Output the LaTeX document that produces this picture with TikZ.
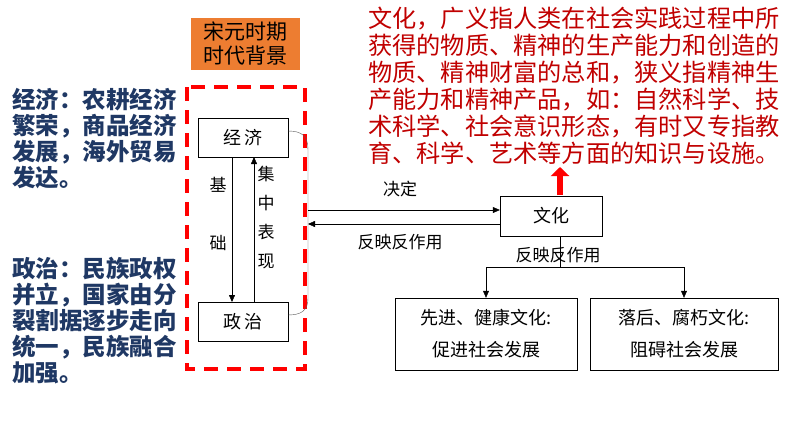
\documentclass[tikz,border=0pt]{standalone}
\usepackage{fontspec}
\setmainfont{Noto Sans CJK SC}
\usetikzlibrary{arrows.meta}
\definecolor{dred}{RGB}{192,0,0}
\definecolor{dblue}{RGB}{31,56,100}
\definecolor{orng}{RGB}{237,125,49}
\tikzset{box/.style={draw,thin,inner sep=0pt,font=\fontsize{18}{21}\selectfont},
 arr/.style={-{Triangle[length=7pt,width=6pt]},thin},
 lab/.style={font=\fontsize{17}{19}\selectfont,inner sep=1pt,align=center}}
\begin{document}
\begin{tikzpicture}[x=1pt,y=-1pt]
\useasboundingbox (0,0) rectangle (794,447);
\node[fill=orng,minimum width=109pt,minimum height=52pt,align=center,font=\fontsize{21}{24}\selectfont,inner sep=0pt] (bg) at (245.5,44) {宋元时期\\时代背景};
\draw[red,line width=4pt,dash pattern=on 14pt off 9pt] (187,87) rectangle (305,369);
\node[box,minimum width=90pt,minimum height=39pt] (jj) at (243,137.5) {经\,济};
\node[box,minimum width=90pt,minimum height=39pt] (zz) at (243,321.5) {政\,治};
\draw[arr] (232,157) -- (232,302);
\draw[arr] (254,302) -- (254,157);
\node[lab,font=\fontsize{17}{58}\selectfont] (jc) at (218,214) {基\\础};
\node[lab,font=\fontsize{17}{29}\selectfont] (jz) at (266,218) {集\\中\\表\\现};
\coordinate (c1) at (288,131);
\coordinate (c2) at (288,315);
\draw[thin,gray!70!black] (c1) .. controls (302,131) and (308,136) .. (308,150) -- (308,298) .. controls (308,310) and (302,315) .. (c2);
\node[box,minimum width=102pt,minimum height=40pt] (wh) at (551,216) {文化};
\coordinate (L) at (308,210);
\coordinate (L2) at (308,224);
\draw[arr] (L) -- (wh.west|-L);
\draw[arr] (wh.west|-L2) -- (L2);
\node[lab] at (400,189) {决定};
\node[lab] at (400,242) {反映反作用};
\node[box,minimum width=182pt,minimum height=72pt,align=center,font=\fontsize{18}{32}\selectfont] (a) at (486,334) {先进、健康文化:\\促进社会发展};
\node[box,minimum width=188pt,minimum height=72pt,align=center,font=\fontsize{18}{32}\selectfont] (b) at (684,334) {落后、腐朽文化:\\阻碍社会发展};
\coordinate (t) at (560,267);
\draw[thin] (wh.south-|t) -- (t);
\draw[arr] (t) -| (a.north);
\draw[arr] (t) -| (b.north);
\node[lab] at (558,255) {反映反作用};
\draw[red,line width=6pt,-{Triangle[length=9pt,width=18pt]}] (560,195) -- (560,167);
\node[anchor=north west,text=dred,align=left,font=\fontsize{24.2}{27}\selectfont,inner sep=0pt] (txt) at (368,7) {文化，广义指人类在社会实践过程中所\\获得的物质、精神的生产能力和创造的\\物质、精神财富的总和，狭义指精神生\\产能力和精神产品，如：自然科学、技\\术科学、社会意识形态，有时又专指教\\育、科学、艺术等方面的知识与设施。};
\node[anchor=north west,text=dblue,align=left,font=\fontsize{23.5}{26}\selectfont\bfseries,inner sep=0pt] (e) at (12,88) {经济：农耕经济\\繁荣，商品经济\\发展，海外贸易\\发达。};
\node[anchor=north west,text=dblue,align=left,font=\fontsize{23.5}{26}\selectfont\bfseries,inner sep=0pt] (p) at (12,257) {政治：民族政权\\并立，国家由分\\裂割据逐步走向\\统一，民族融合\\加强。};
\end{tikzpicture}
\end{document}
